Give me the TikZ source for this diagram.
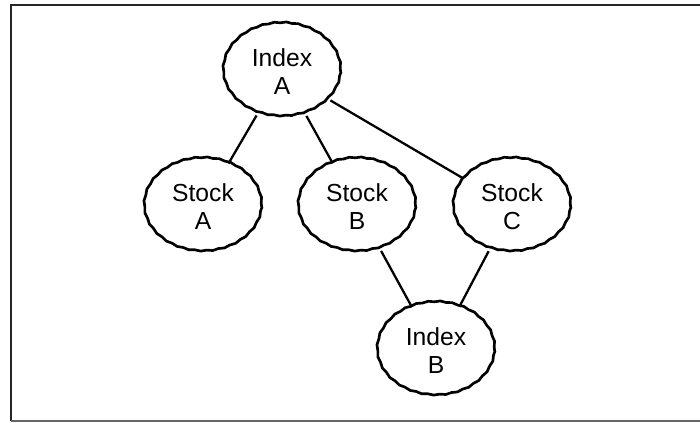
\documentclass[tikz,border=0pt]{standalone}
\usepackage{fontspec}
\setmainfont{Liberation Sans}
\usetikzlibrary{shapes,decorations.pathmorphing}

\begin{document}
\begin{tikzpicture}[
    x=0.75pt, y=-0.75pt,
    asset/.style={ellipse, draw=black, line width=2pt, minimum width=88pt, minimum height=70pt, inner sep=0pt, align=center, font=\fontsize{18.5}{21}\selectfont, decorate, decoration={snake, amplitude=0.35pt, segment length=9pt}},
    link/.style={line width=1.7pt}
]

% Frame
\useasboundingbox (0,0) rectangle (700,422);
\draw[line width=2.2pt, black!85] (702,5) -- (11,5) -- (11,421);
\draw[line width=1.6pt, black!60] (11,421) -- (702,421);

% Indices
\node[asset] (idxA) at (282, 72) {Index\\A};
\node[asset] (idxB) at (436, 351) {Index\\B};

% Stocks
\node[asset] (stA) at (203, 207) {Stock\\A};
\node[asset] (stB) at (357, 207) {Stock\\B};
\node[asset] (stC) at (512, 207) {Stock\\C};

% Links
\draw[link] (idxA) -- (stA);
\draw[link] (idxA) -- (stB);
\draw[link] (idxA) -- (stC);
\draw[link] (stB) -- (idxB);
\draw[link] (stC) -- (idxB);

\end{tikzpicture}
\end{document}
